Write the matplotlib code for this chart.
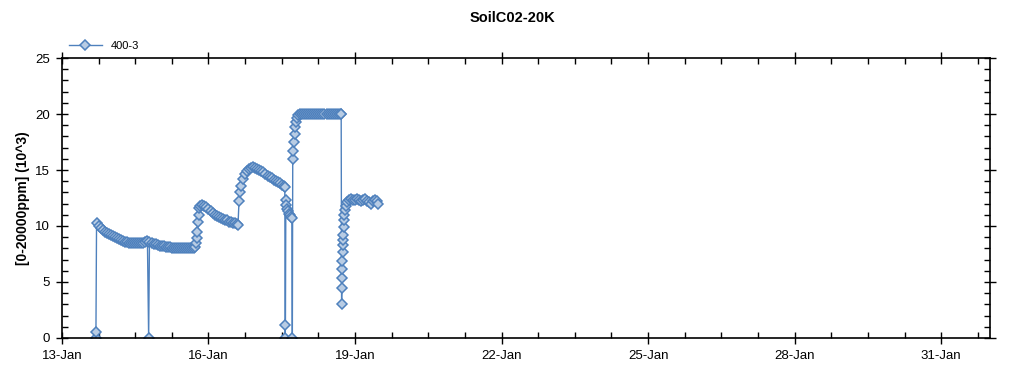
import matplotlib
matplotlib.use('Agg')
import matplotlib.pyplot as plt
import matplotlib.dates as mdates
import numpy as np
import pandas as pd

title = 'SoilC02-20K'
series_name = '400-3'
y_label = '[0-20000ppm] (10^3)'
start_day = '2019-01-13'
end_day = '2019-02-01'

# hours after 13-Jan 00:00, and reading in thousands of ppm
hours = [
    16.5, 16.7, 17, 18, 19, 20, 21, 22, 23, 24, 25, 26, 27, 28, 29, 30, 31, 32, 33,
    34, 35, 36, 37, 38, 39, 40, 41, 42, 42.6, 43, 44, 45, 46, 47, 48, 49, 50, 51,
    52, 53, 54, 55, 56, 57, 58, 59, 60, 61, 62, 63, 64, 65, 65.5, 66, 66.3, 66.6,
    66.9, 67.2, 67.5, 68, 69, 70, 71, 72, 73, 74, 75, 76, 77, 78, 79, 80, 81, 82,
    83, 84, 85, 86, 86.5, 87, 87.5, 88, 89, 90, 91, 92, 93, 94, 95, 96, 97, 98,
    99, 100, 101, 102, 103, 104, 105, 106, 107, 108, 109, 109.5, 109.7, 109.8,
    110, 110.3, 110.6, 111, 111.5, 112, 112.5, 113, 113.2, 113.4, 113.7, 114,
    114.3, 114.6, 115, 115.5, 116, 117, 118, 119, 120, 121, 122, 123, 124, 125,
    126, 127, 128, 129, 130, 131, 132, 133, 134, 135, 136, 137, 137.2, 137.4,
    137.5, 137.6, 137.7, 137.8, 137.9, 138, 138.1, 138.2, 138.4, 138.6, 138.8,
    139, 139.5, 140, 141, 142, 143, 144, 145, 146, 147, 148, 149, 150, 151, 152,
    153, 154, 155, 155.5,
]
ppm_k = [
    0, 0.5, 10.3, 10.0, 9.8, 9.6, 9.5, 9.4, 9.3, 9.2, 9.1, 9.0, 8.9, 8.8, 8.75,
    8.7, 8.6, 8.55, 8.5, 8.5, 8.45, 8.5, 8.5, 8.45, 8.5, 8.5, 8.6, 8.65, 0, 8.6,
    8.5, 8.4, 8.35, 8.3, 8.25, 8.2, 8.2, 8.15, 8.1, 8.1, 8.05, 8.0, 8.0, 8.0, 8.0,
    8.0, 8.0, 8.05, 8.0, 8.0, 8.0, 8.0, 8.1, 8.5, 8.9, 9.5, 10.4, 11.0, 11.6, 11.8,
    11.9, 11.8, 11.7, 11.5, 11.3, 11.2, 11.0, 10.9, 10.8, 10.7, 10.6, 10.5, 10.5,
    10.4, 10.4, 10.3, 10.3, 10.2, 10.1, 12.2, 13.0, 13.6, 14.2, 14.6, 14.9, 15.1,
    15.2, 15.25, 15.2, 15.1, 15.0, 14.9, 14.8, 14.6, 14.5, 14.4, 14.3, 14.1, 14.0,
    13.9, 13.8, 13.7, 13.6, 13.5, 0, 1.2, 12.3, 11.9, 11.5, 11.3, 11.1, 11.0,
    10.8, 10.7, 0, 16.0, 16.7, 17.5, 18.2, 18.8, 19.3, 19.6, 19.9, 20.0, 20.0,
    20.0, 20.0, 20.0, 20.0, 20.0, 20.0, 20.0, 20.0, 20.0, 20.0, 20.0, 20.0, 20.0,
    20.0, 20.0, 20.0, 20.0, 20.0, 20.0, 20.0, 3.0, 4.5, 5.4, 6.2, 6.9, 7.65, 8.3,
    8.75, 9.2, 9.9, 10.5, 11.0, 11.4, 11.8, 12.1, 12.3, 12.4, 12.3, 12.3, 12.4,
    12.3, 12.2, 12.3, 12.4, 12.2, 12.1, 12.0, 12.2, 12.3, 12.2, 12.0,
]

plt.rcParams['font.family'] = ['Liberation Sans', 'DejaVu Sans']

times = pd.Timestamp(start_day) + pd.to_timedelta(hours, unit='h')

fig = plt.figure(figsize=(10.24, 3.75), dpi=100)
ax = fig.add_axes([0.0605, 0.0987, 0.9063, 0.7466])

ax.plot(times, ppm_k, color='#4F81BD', lw=1.0, marker='D', ms=4.8,
        mfc='#B8CCE4', mec='#4F81BD', mew=1.1, label=series_name)

ax.set_xlim(pd.Timestamp(start_day), pd.Timestamp(end_day))
ax.set_ylim(0, 25)
ax.set_yticks(np.arange(0, 26, 5))
ax.yaxis.set_minor_locator(matplotlib.ticker.MultipleLocator(1))
ax.xaxis.set_major_locator(mdates.DayLocator(bymonthday=[13, 16, 19, 22, 25, 28, 31]))
ax.xaxis.set_major_formatter(mdates.DateFormatter('%d-%b'))

# minor ticks every 18 hours between the 3-day majors
minor_ticks = pd.date_range(start_day, end_day, freq='18h')
ax.set_xticks(minor_ticks, minor=True)

ax.tick_params(which='major', direction='inout', length=9, width=1, labelsize=9.5,
               top=True, right=True, pad=4)
ax.tick_params(which='minor', direction='in', length=4, width=1, top=True, right=True)
for side in ax.spines.values():
    side.set_linewidth(1.2)

ax.set_ylabel(y_label, fontsize=10, fontweight='bold')
fig.suptitle(title, x=0.5, y=0.97, fontsize=10.5, fontweight='bold')
ax.legend(loc='lower left', bbox_to_anchor=(0.0, 1.0), frameon=False, fontsize=8,
          handlelength=3, borderaxespad=0.2)

fig.savefig('out.png', dpi=100)
